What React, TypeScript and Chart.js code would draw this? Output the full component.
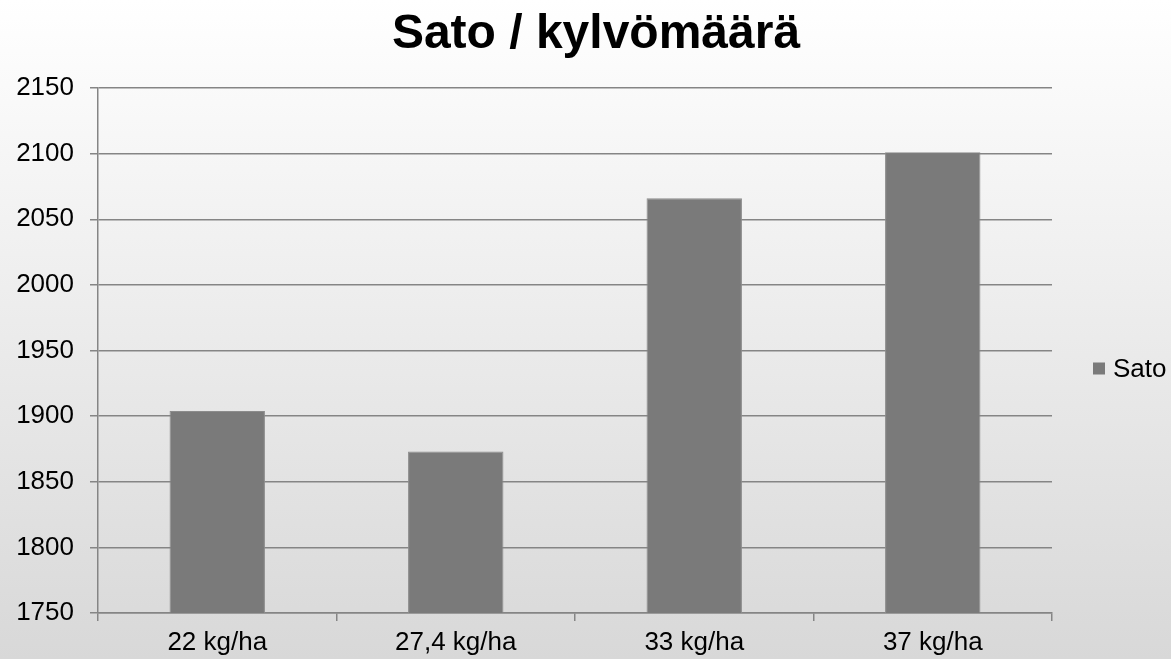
import React, { useEffect, useRef } from "react";
import { Chart, registerables } from "chart.js";

Chart.register(...registerables);

const chartTitle = "Sato / kylvömäärä";
const seriesLabel = "Sato";
const categories = ["22 kg/ha", "27,4 kg/ha", "33 kg/ha", "37 kg/ha"];
const satoValues = [1904, 1873, 2066, 2101];
const yMin = 1750;
const yMax = 2150;
const yStep = 50;

const FONT = "'Liberation Sans', Arial, sans-serif";
const BAR_FILL = "#7a7a7a";
const BAR_EDGE = "#8c8c8c";
const GRID = "#858585";
const LINE_W = 1.5;

const titlePlugin = {
  id: "customTitle",
  afterDraw(chart: any) {
    const { ctx } = chart;
    ctx.save();
    ctx.fillStyle = "#000";
    ctx.font = `bold 48px ${FONT}`;
    ctx.textBaseline = "middle";
    ctx.textAlign = "center";
    ctx.fillText(chartTitle, 596, 35);
    ctx.restore();
  },
};

const legendPlugin = {
  id: "customLegend",
  afterDraw(chart: any) {
    const { ctx, chartArea } = chart;
    const ds = chart.data.datasets[0];
    const x = chartArea.right + 41;
    const y = (chartArea.top + chartArea.bottom) / 2 + 18;
    ctx.save();
    ctx.fillStyle = ds.backgroundColor;
    ctx.fillRect(x, y - 6, 12, 12);
    ctx.fillStyle = "#000";
    ctx.font = `26px ${FONT}`;
    ctx.textBaseline = "middle";
    ctx.textAlign = "left";
    ctx.fillText(ds.label, x + 20, y + 1);
    ctx.restore();
  },
};

export default function App() {
  const ref = useRef<HTMLCanvasElement>(null);
  useEffect(() => {
    document.body.style.margin = "0";
    const chart = new Chart(ref.current!, {
      type: "bar",
      data: {
        labels: categories,
        datasets: [
          {
            label: seriesLabel,
            data: satoValues,
            backgroundColor: BAR_FILL,
            borderColor: BAR_EDGE,
            borderWidth: 1,
            barPercentage: 0.4,
            categoryPercentage: 1,
          },
        ],
      },
      options: {
        animation: false,
        responsive: true,
        maintainAspectRatio: false,
        layout: { padding: { left: 0, right: 0, top: 88, bottom: 0 } },
        plugins: {
          legend: { display: false },
          tooltip: { enabled: false },
          title: { display: false },
        },
        scales: {
          x: {
            afterFit: (s: any) => {
              s.height = 46;
            },
            grid: {
              offset: true,
              drawOnChartArea: false,
              drawTicks: true,
              tickLength: 8,
              color: GRID,
              lineWidth: LINE_W,
            },
            border: { color: GRID, width: LINE_W },
            ticks: {
              color: "#000",
              font: { family: FONT, size: 26 },
              padding: 6,
              maxRotation: 0,
            },
          },
          y: {
            min: yMin,
            max: yMax,
            afterFit: (s: any) => {
              s.width = 98;
            },
            grid: { color: GRID, tickLength: 8, lineWidth: LINE_W },
            border: { color: GRID, width: LINE_W },
            ticks: {
              stepSize: yStep,
              color: "#000",
              font: { family: FONT, size: 26 },
              padding: 16,
              callback: (v: any) => String(v),
            },
          },
          yRight: {
            type: "linear",
            position: "right",
            display: true,
            grid: { display: false },
            border: { display: false },
            ticks: { display: false },
            afterFit: (s: any) => {
              s.width = 119;
            },
          },
        },
      },
      plugins: [titlePlugin, legendPlugin],
    });
    return () => chart.destroy();
  }, []);
  return (
    <div
      style={{
        position: "fixed",
        left: 0,
        top: 0,
        width: 1171,
        height: 659,
        background: "linear-gradient(#ffffff, #d8d8d8)",
      }}
    >
      <canvas ref={ref} />
    </div>
  );
}
